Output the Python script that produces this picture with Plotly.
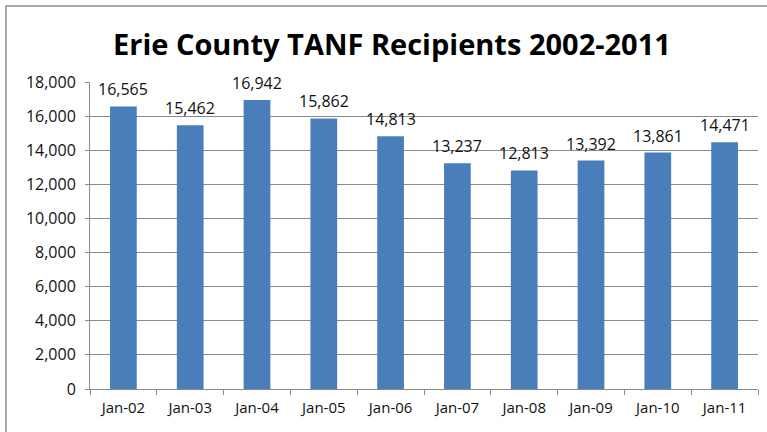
import plotly.graph_objects as go

categories = ["Jan-02", "Jan-03", "Jan-04", "Jan-05", "Jan-06",
              "Jan-07", "Jan-08", "Jan-09", "Jan-10", "Jan-11"]
recipients = [16565, 15462, 16942, 15862, 14813, 13237, 12813, 13392, 13861, 14471]
y_ticks = list(range(0, 18001, 2000))

FONT = "Open Sans"
TXT = "#111111"
GRID = "#8a8a8a"

fig = go.Figure(go.Bar(
    x=categories, y=recipients,
    marker=dict(color="#4a7ebb", line=dict(width=0)),
    hoverinfo="x+y",
))

annotations = [
    dict(x=c, y=v, xref="x", yref="y", text=f"{v:,}", showarrow=False,
         yanchor="bottom", yshift=4,
         font=dict(family=FONT, size=16, color=TXT))
    for c, v in zip(categories, recipients)
]

fig.update_layout(
    width=767, height=432,
    margin=dict(l=90, r=9, t=82, b=43),
    paper_bgcolor="white", plot_bgcolor="white",
    bargap=0.6, showlegend=False,
    annotations=annotations,
    title=dict(text="<b>Erie County TANF Recipients 2002-2011</b>",
               font=dict(family=FONT, size=29, color="#000000"),
               x=0.511, xanchor="center", xref="container",
               y=1 - 45 / 432, yanchor="middle", yref="container"),
    xaxis=dict(type="category", tickson="boundaries", ticks="outside",
               ticklen=5, tickcolor=GRID, showgrid=False,
               showline=True, linecolor=GRID, linewidth=1,
               ticklabelstandoff=5,
               tickfont=dict(family=FONT, size=15, color=TXT)),
    yaxis=dict(range=[0, 18000], tickvals=y_ticks, tickformat=",",
               ticks="outside", ticklen=4, tickcolor=GRID,
               showgrid=True, gridcolor=GRID, gridwidth=1,
               showline=True, linecolor=GRID, linewidth=1,
               zeroline=False, ticklabelstandoff=6,
               tickfont=dict(family=FONT, size=16, color=TXT)),
    shapes=[dict(type="rect", xref="paper", yref="paper",
                 x0=(6 - 90) / 668, x1=(780 - 90) / 668,
                 y0=(389 - 445) / 307, y1=(389 - 6) / 307,
                 line=dict(color="#8c8c8c", width=1.5), layer="below")],
)

fig.write_html("out.html")
